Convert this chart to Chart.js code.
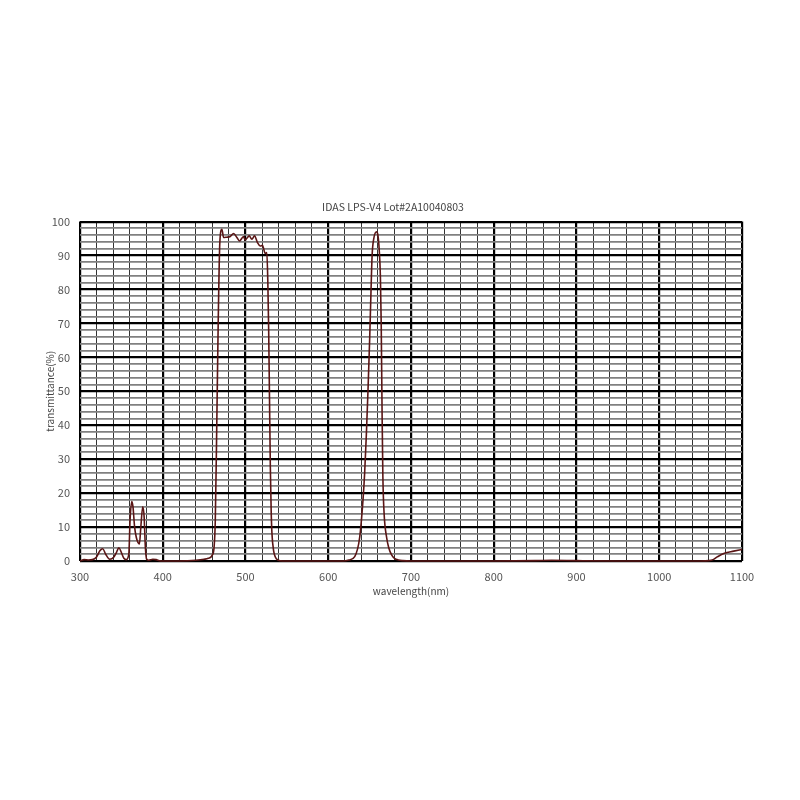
<!DOCTYPE html>
<html>
<head>
<meta charset="utf-8">
<script src="https://cdn.jsdelivr.net/npm/chart.js@4/dist/chart.umd.min.js"></script>
<style>
html,body{margin:0;padding:0;background:#fff;}
#wrap{width:800px;height:800px;position:relative;}
</style>
</head>
<body>
<div id="wrap"><canvas id="c" width="800" height="800"></canvas></div>
<script>
const chartTitle = "IDAS LPS-V4 Lot#2A10040803";
const xTitle = "wavelength(nm)";
const yTitle = "transmittance(%)";

const wavelength = [300,305,310,315,320,324,327.5,331,336,341,344,347,350,353,356,359,360.5,362.5,364,366,368,370,371.8,373.5,375.8,377.5,379,380.6,383,388,392,396,400,420,440,450,455,460,462,463.5,465,467,469,471.5,473.5,477,481.6,485.6,489.6,492.8,497.6,499.6,504.5,507.7,510.9,514.5,517.7,520.5,523.8,525.8,527,528,529,530,531,532,534,536,539,545,560,600,618,625,632,638,642,644,646,648,650,651.5,653,655,658.5,660,661.5,663,664,665,666,667.5,670.5,673,676.6,680,684.6,690,700,800,850,870,900,950,1000,1050,1060,1065,1070,1078.7,1090,1100];
const transmittance = [0,0.4,0.3,0.4,1.2,3.0,3.6,2.0,0.5,1.2,2.5,3.9,2.5,0.8,0.4,2,12,17.5,16,10,7,5.5,5,10,16,13,4,0.5,0.2,0.5,0.4,0.1,0,0,0.2,0.5,0.8,1.8,4,12,35,70,94,97.7,95.3,95.4,95.6,96.5,95.3,94.3,95.6,94.6,95.8,94.8,95.8,93.8,92.8,93,90.6,90.9,82,68,48,28,15,8,3,1.2,0.3,0,0,0,0,0.3,1.3,7,18,26,37,50,65,78,90,95,97,96,92,84,70,45,25,14,7,4,1.8,0.8,0.3,0.1,0,0,0.1,0.2,0.1,0,0,0,0.1,0.4,1.2,2.3,2.9,3.4];

const xMin = 300, xMax = 1100, xStep = 20, xLabelStep = 100;
const yMin = 0, yMax = 100, yStep = 2, yLabelStep = 10;

const points = wavelength.map((w, i) => ({x: w, y: transmittance[i]}));
const fontFam = "'Noto Sans CJK JP', 'DejaVu Sans', sans-serif";

new Chart(document.getElementById('c'), {
  type: 'line',
  data: {
    datasets: [{
      data: points,
      borderColor: '#5a1515',
      borderWidth: 1.6,
      pointRadius: 0,
      fill: false,
      cubicInterpolationMode: 'monotone',
      clip: 4
    }]
  },
  options: {
    responsive: false,
    animation: false,
    layout: { padding: { left: 44, right: 58, top: 201, bottom: 203 } },
    plugins: {
      legend: { display: false },
      tooltip: { enabled: false },
      title: {
        display: true,
        text: chartTitle,
        color: '#444',
        font: { family: fontFam, size: 10.5, weight: 'normal' },
        padding: { top: 0, bottom: 8 }
      }
    },
    scales: {
      x: {
        type: 'linear',
        min: xMin, max: xMax,
        afterFit: s => { s.height = 36; },
        border: { display: false },
        grid: {
          drawTicks: false,
          color: ctx => (Math.round(ctx.tick.value) % xLabelStep === 0) ? '#000' : '#333',
          lineWidth: ctx => (Math.round(ctx.tick.value) % xLabelStep === 0) ? 2.2 : 1
        },
        ticks: {
          stepSize: xStep,
          autoSkip: false,
          maxRotation: 0,
          padding: 9,
          color: '#555',
          font: { family: fontFam, size: 11 },
          callback: v => (Math.round(v) % xLabelStep === 0) ? String(Math.round(v)) : ''
        },
        title: {
          display: true,
          text: xTitle,
          color: '#444',
          font: { family: fontFam, size: 10 },
          padding: 0
        }
      },
      y: {
        min: yMin, max: yMax,
        afterFit: s => { s.width = 36; },
        border: { display: false },
        grid: {
          drawTicks: false,
          color: ctx => (Math.round(ctx.tick.value) % yLabelStep === 0) ? '#000' : '#808080',
          lineWidth: ctx => (Math.round(ctx.tick.value) % yLabelStep === 0) ? 2.2 : 1.8
        },
        ticks: {
          stepSize: yStep,
          autoSkip: false,
          padding: 10,
          color: '#555',
          font: { family: fontFam, size: 11 },
          callback: v => (Math.round(v) % yLabelStep === 0) ? String(Math.round(v)) : ''
        },
        title: {
          display: true,
          text: yTitle,
          color: '#444',
          font: { family: fontFam, size: 10 },
          padding: 0
        }
      }
    }
  }
});
</script>
</body>
</html>
